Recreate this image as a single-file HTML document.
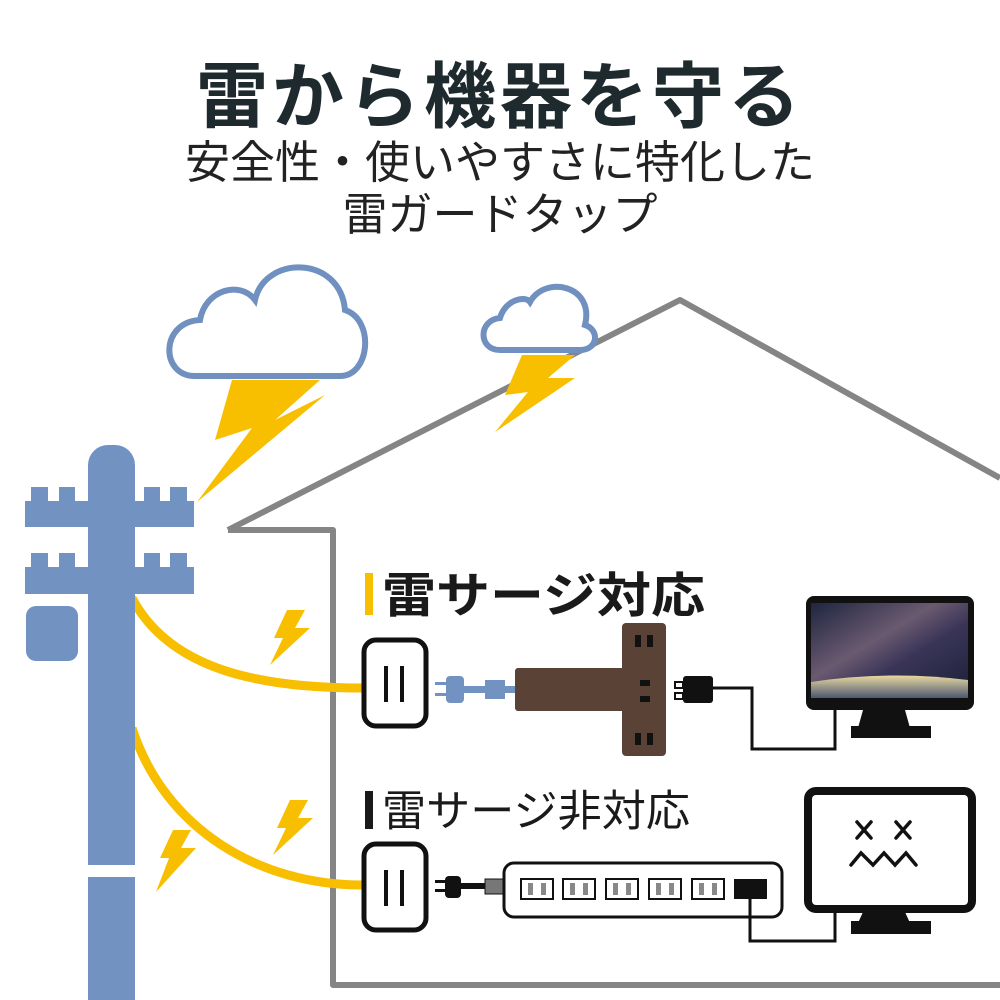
<!DOCTYPE html>
<html><head><meta charset="utf-8"><style>
body{margin:0;width:1000px;height:1000px;background:#fff;overflow:hidden;position:relative;font-family:"Liberation Sans","Noto Sans CJK JP",sans-serif}
.t{position:absolute;left:0;width:1000px;text-align:center;color:#1a1a1a}
</style></head><body>
<div class="t" style="top:38px;font-size:72px;font-weight:bold;letter-spacing:4px;color:#1e2a2e">雷から機器を守る</div>
<div class="t" style="top:137px;font-size:45px;line-height:52px;color:#222">安全性・使いやすさに特化した<br>雷ガードタップ</div>
<svg width="1000" height="1000" style="position:absolute;left:0;top:0">
<polyline points="228,530 333,530 333,985 1000,985" fill="none" stroke="#858585" stroke-width="6" stroke-linejoin="round"/>
<polyline points="228,530 680,300 1000,478" fill="none" stroke="#858585" stroke-width="6" stroke-linejoin="round"/>
<path d="M195,376 C160,376 160,322 200,320 C205,290 240,280 255,300 C265,255 340,255 345,310 C375,320 370,376 340,376 Z" fill="#fff" stroke="#7090c0" stroke-width="6"/>
<path d="M500,350 C478,350 478,320 500,318 C505,300 525,295 530,302 C545,275 595,285 585,325 C600,330 598,350 580,350 Z" fill="#fff" stroke="#7090c0" stroke-width="6"/>
<polygon points="232,380 320,380 275,420 325,395 197,502 252,428 215,440" fill="#f8be00"/>
<polygon points="522,355 575,355 548,378 575,378 495,432 528,392 505,395" fill="#f8be00"/>
<polygon points="287,610 305,610 295,628 310,628 270,665 283,638 274,638" fill="#f8be00"/>
<polygon points="290,800 308,800 298,818 313,818 273,855 286,828 277,828" fill="#f8be00"/>
<polygon points="173,830 191,830 181,848 196,848 156,892 169,858 160,858" fill="#f8be00"/>
<path d="M132,598 C170,670 260,688 362,688" fill="none" stroke="#f8be00" stroke-width="9"/>
<path d="M132,728 C165,830 260,885 362,885" fill="none" stroke="#f8be00" stroke-width="9"/>
<g fill="#7292c2">
<rect x="88" y="445" width="47" height="560" rx="20"/>
<rect x="88" y="470" width="47" height="530"/>
<rect x="25" y="501" width="169" height="26"/>
<rect x="25" y="567" width="169" height="27"/>
<rect x="31" y="487" width="17" height="15"/><rect x="59" y="487" width="16" height="15"/><rect x="144" y="487" width="16" height="15"/><rect x="170" y="487" width="17" height="15"/>
<rect x="31" y="553" width="17" height="15"/><rect x="59" y="553" width="16" height="15"/><rect x="144" y="553" width="16" height="15"/><rect x="170" y="553" width="17" height="15"/>
<rect x="26" y="606" width="52" height="55" rx="10"/>
</g>
<rect x="88" y="865" width="47" height="12" fill="#fff"/>
<rect x="365" y="573" width="8" height="42" fill="#f8be00"/>
<text x="382" y="612" font-size="48" font-weight="bold" fill="#1a1a1a" textLength="323" lengthAdjust="spacingAndGlyphs" font-family="Liberation Sans,Noto Sans CJK JP,sans-serif">雷サージ対応</text>
<rect x="365" y="791" width="8" height="38" fill="#1a1a1a"/>
<text x="382" y="826" font-size="43" fill="#1a1a1a" textLength="308" lengthAdjust="spacingAndGlyphs" font-family="Liberation Sans,Noto Sans CJK JP,sans-serif">雷サージ非対応</text>
<rect x="364" y="640" width="62" height="86" rx="12" fill="#fff" stroke="#111" stroke-width="5"/>
<rect x="384" y="666" width="4" height="36" fill="#111"/><rect x="400" y="666" width="4" height="36" fill="#111"/>
<rect x="364" y="844" width="62" height="86" rx="12" fill="#fff" stroke="#111" stroke-width="5"/>
<rect x="384" y="870" width="4" height="36" fill="#111"/><rect x="400" y="870" width="4" height="36" fill="#111"/>
<g fill="#7292c2">
<rect x="435" y="682" width="12" height="3"/><rect x="435" y="693" width="12" height="3"/>
<rect x="446" y="676" width="18" height="27" rx="4"/>
<rect x="462" y="686" width="55" height="7"/>
<rect x="485" y="680" width="20" height="19"/>
</g>
<rect x="515" y="668" width="110" height="43" rx="3" fill="#5a4237"/>
<rect x="622" y="623" width="44" height="133" rx="4" fill="#5a4237"/>
<g fill="#111"><rect x="635" y="635" width="6" height="12"/><rect x="647" y="635" width="6" height="12"/>
<rect x="640" y="680" width="10" height="6"/><rect x="640" y="696" width="10" height="6"/>
<rect x="635" y="733" width="6" height="12"/><rect x="647" y="733" width="6" height="12"/></g>
<rect x="675" y="682" width="8" height="6" fill="#fff" stroke="#111" stroke-width="2"/><rect x="675" y="693" width="8" height="6" fill="#fff" stroke="#111" stroke-width="2"/>
<rect x="683" y="676" width="30" height="27" rx="3" fill="#111"/>
<polyline points="712,688 752,688 752,749 835,749 835,705" fill="none" stroke="#111" stroke-width="3"/>
<defs><linearGradient id="sp" x1="0" y1="0" x2="1" y2="1"><stop offset="0" stop-color="#1f2540"/><stop offset="0.4" stop-color="#6a5a70"/><stop offset="0.6" stop-color="#3a3558"/><stop offset="1" stop-color="#1a2035"/></linearGradient>
<linearGradient id="ea" x1="0" y1="0" x2="0" y2="1"><stop offset="0" stop-color="#e8d8a0"/><stop offset="1" stop-color="#4a5870"/></linearGradient></defs>
<rect x="806" y="596" width="168" height="114" rx="8" fill="#111"/>
<rect x="811" y="603" width="157" height="95" fill="url(#sp)"/>
<path d="M811,682 Q890,670 968,680 L968,698 L811,698 Z" fill="url(#ea)"/>
<polygon points="863,710 905,710 910,728 858,728" fill="#111"/>
<rect x="851" y="726" width="80" height="12" fill="#111"/>
<rect x="435" y="880" width="10" height="3" fill="#111"/><rect x="435" y="889" width="10" height="3" fill="#111"/>
<rect x="445" y="876" width="16" height="22" rx="4" fill="#111"/>
<rect x="460" y="883" width="25" height="6" fill="#111"/>
<rect x="485" y="879" width="18" height="15" fill="#777" stroke="#111" stroke-width="1"/>
<rect x="504" y="863" width="278" height="54" rx="10" fill="#fff" stroke="#111" stroke-width="3"/>
<g fill="#fff" stroke="#111" stroke-width="2">
<rect x="521" y="879" width="32" height="20"/><rect x="563" y="879" width="32" height="20"/><rect x="606" y="879" width="32" height="20"/><rect x="649" y="879" width="32" height="20"/><rect x="692" y="879" width="32" height="20"/></g>
<g fill="#888"><rect x="528" y="883" width="5" height="12"/><rect x="541" y="883" width="5" height="12"/><rect x="570" y="883" width="5" height="12"/><rect x="583" y="883" width="5" height="12"/><rect x="613" y="883" width="5" height="12"/><rect x="626" y="883" width="5" height="12"/><rect x="656" y="883" width="5" height="12"/><rect x="669" y="883" width="5" height="12"/><rect x="699" y="883" width="5" height="12"/><rect x="712" y="883" width="5" height="12"/></g>
<rect x="734" y="879" width="33" height="20" fill="#111"/>
<polyline points="750,898 750,941 835,941 835,912" fill="none" stroke="#111" stroke-width="3"/>
<rect x="808" y="791" width="164" height="118" rx="8" fill="#fff" stroke="#111" stroke-width="8"/>
<polygon points="863,912 905,912 910,923 858,923" fill="#111"/>
<rect x="851" y="921" width="80" height="13" fill="#111"/>
<g stroke="#111" stroke-width="3.5" fill="none" stroke-linecap="round">
<path d="M857,822 L871,838 M871,822 L857,838 M896,822 L910,838 M910,822 L896,838"/>
<path d="M851,865 L861,853 L873,865 L884,853 L895,865 L906,853 L916,865"/>
</g>
</svg>
</body></html>
